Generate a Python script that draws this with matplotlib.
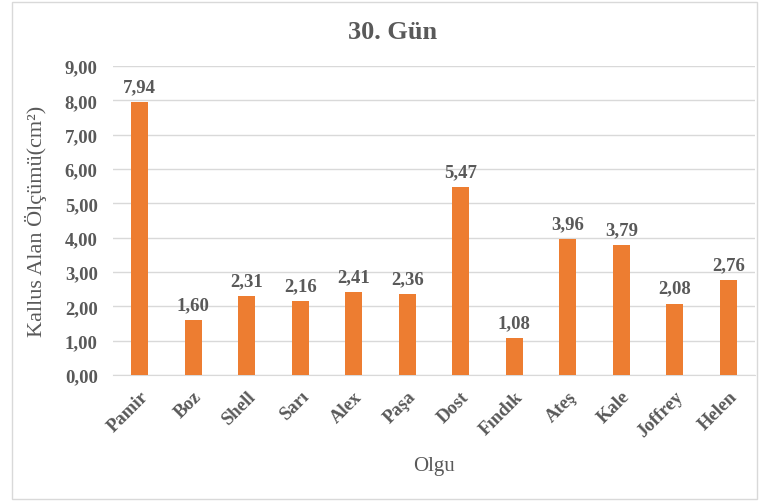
import matplotlib.pyplot as plt
from matplotlib.patches import Rectangle

categories = ["Pamir", "Boz", "Shell", "Sarı", "Alex", "Paşa", "Dost",
              "Fındık", "Ateş", "Kale", "Joffrey", "Helen"]
values = [7.94, 1.60, 2.31, 2.16, 2.41, 2.36, 5.47, 1.08, 3.96, 3.79, 2.08, 2.76]
yticks = [0, 1, 2, 3, 4, 5, 6, 7, 8, 9]

plt.rcParams['font.family'] = ['Liberation Serif', 'DejaVu Serif']
text_color = '#595959'
bar_color = '#ED7D31'
grid_color = '#D9D9D9'

fig = plt.figure(figsize=(7.65, 5.02), dpi=100)
W, H = 765, 502
ax = fig.add_axes([113 / W, 1 - 376 / H, (755 - 113) / W, (376 - 67) / H])

x = range(len(categories))
bars = ax.bar(x, values, width=0.32, color=bar_color, zorder=3)

ax.set_xlim(-0.5, len(categories) - 0.5)
ax.set_ylim(0, 9)
ax.set_yticks(yticks)
ax.set_yticklabels([f"{v:.2f}".replace('.', ',') for v in yticks],
                   fontsize=13.5, fontweight='bold', color=text_color)
ax.yaxis.grid(True, color=grid_color, linewidth=1, zorder=0)
ax.tick_params(axis='y', length=0, pad=11)
for s in ['top', 'right', 'left']:
    ax.spines[s].set_visible(False)
ax.spines['bottom'].set_color(grid_color)

ax.set_xticks(list(x))
ax.set_xticklabels(categories, rotation=45, ha='right', rotation_mode='anchor',
                   fontsize=13.5, fontweight='bold', color=text_color)
ax.tick_params(axis='x', length=0, pad=9)

for rect, v in zip(bars, values):
    ax.annotate(f"{v:.2f}".replace('.', ','),
                (rect.get_x() + rect.get_width() / 2, v),
                xytext=(0, 5), textcoords='offset points',
                ha='center', va='bottom', fontsize=13.5, fontweight='bold',
                color=text_color)

ax.set_ylabel("Kallus Alan Ölçümü(cm²)", fontsize=16, color=text_color)
ax.yaxis.set_label_coords((47 - 113) / (755 - 113), 0.5)
fig.text(434 / W, 1 - 467 / H, "Olgu", fontsize=15, color=text_color,
         ha='center', va='center')
fig.text(393 / W, 1 - 33 / H, "30. Gün", fontsize=19, fontweight='bold',
         color=text_color, ha='center', va='center')

fig.patches.append(Rectangle((12 / W, 2 / H), (757 - 12) / W, (499 - 2) / H,
                             transform=fig.transFigure, fill=False,
                             edgecolor=grid_color, linewidth=1))

fig.savefig("out.png", dpi=100)
